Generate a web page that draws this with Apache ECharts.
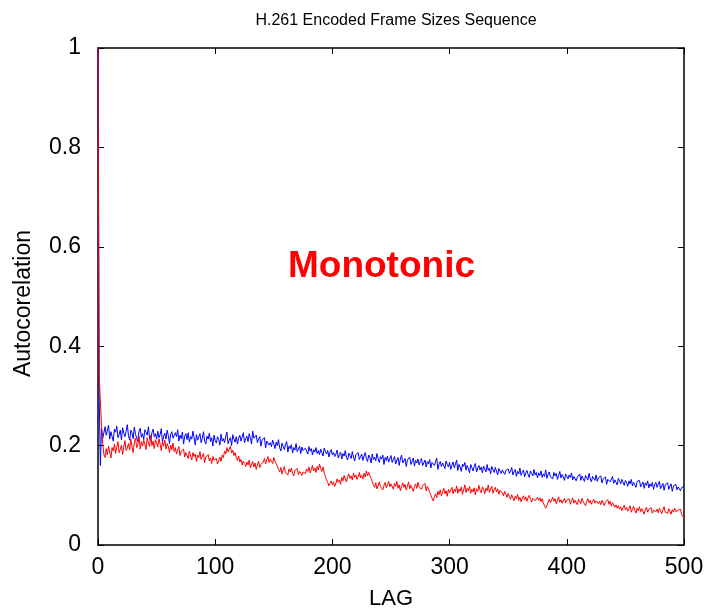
<!DOCTYPE html>
<html>
<head>
<meta charset="utf-8">
<script src="https://cdn.jsdelivr.net/npm/echarts@6/dist/echarts.min.js"></script>
<style>
  html, body { margin: 0; padding: 0; background: #fff; }
  #chart { width: 707px; height: 610px; }
</style>
</head>
<body>
<div id="chart"></div>
<script>
// Autocorrelation of the H.261 encoded frame-size sequence, lags 0..500.
const xTicks = [0, 100, 200, 300, 400, 500];
const yTicks = [0, 0.2, 0.4, 0.6, 0.8, 1];

// Blue trace (index = lag)
const blueAcf = [1.0,
  0.30,0.16,0.235,0.214,0.226,0.238,0.221,0.219,0.241,0.213,0.228,0.224,0.209,0.233,0.227,0.239,0.216,0.222,0.231,0.212,0.236,0.225,0.218,0.229,0.242,
  0.22,0.211,0.231,0.226,0.214,0.237,0.223,0.219,0.208,0.229,0.235,0.217,0.224,0.212,0.232,0.227,0.221,0.238,0.215,0.209,0.226,0.233,0.218,0.224,0.213,
  0.229,0.216,0.222,0.234,0.207,0.219,0.225,0.213,0.231,0.22,0.204,0.223,0.228,0.215,0.211,0.226,0.218,0.232,0.209,0.221,0.214,0.227,0.203,0.219,0.224,
  0.212,0.226,0.207,0.218,0.213,0.229,0.216,0.201,0.222,0.211,0.217,0.224,0.206,0.214,0.228,0.209,0.203,0.219,0.213,0.225,0.208,0.216,0.199,0.221,0.21,
  0.205,0.218,0.212,0.201,0.223,0.209,0.214,0.206,0.219,0.227,0.204,0.211,0.216,0.2,0.222,0.213,0.207,0.218,0.203,0.215,0.221,0.209,0.212,0.226,0.206,
  0.214,0.219,0.208,0.224,0.216,0.203,0.229,0.215,0.211,0.221,0.206,0.213,0.218,0.199,0.211,0.207,0.216,0.195,0.209,0.213,0.201,0.206,0.198,0.211,0.203,
  0.194,0.207,0.2,0.212,0.196,0.189,0.205,0.198,0.192,0.203,0.208,0.187,0.199,0.194,0.202,0.185,0.196,0.191,0.204,0.188,0.193,0.199,0.184,0.197,0.19,
  0.186,0.195,0.191,0.183,0.198,0.189,0.194,0.181,0.192,0.187,0.196,0.184,0.19,0.182,0.193,0.186,0.179,0.195,0.188,0.183,0.19,0.177,0.187,0.192,0.181,
  0.186,0.178,0.183,0.191,0.175,0.182,0.187,0.173,0.184,0.179,0.19,0.176,0.171,0.185,0.18,0.174,0.188,0.177,0.169,0.182,0.179,0.186,0.172,0.178,0.183,
  0.17,0.179,0.186,0.174,0.168,0.181,0.176,0.165,0.183,0.172,0.177,0.169,0.184,0.174,0.166,0.178,0.173,0.181,0.162,0.176,0.17,0.179,0.167,0.174,0.18,
  0.166,0.172,0.178,0.163,0.171,0.176,0.16,0.173,0.181,0.165,0.169,0.174,0.158,0.171,0.167,0.177,0.162,0.168,0.175,0.159,0.17,0.165,0.173,0.161,0.168,
  0.174,0.16,0.165,0.171,0.157,0.168,0.163,0.172,0.155,0.166,0.17,0.16,0.164,0.175,0.152,0.163,0.168,0.158,0.165,0.161,0.154,0.169,0.162,0.157,0.166,
  0.152,0.161,0.167,0.155,0.159,0.171,0.15,0.162,0.157,0.148,0.163,0.158,0.166,0.151,0.16,0.154,0.145,0.162,0.156,0.149,0.158,0.164,0.147,0.155,0.16,
  0.151,0.157,0.145,0.159,0.153,0.147,0.162,0.15,0.155,0.143,0.158,0.152,0.146,0.156,0.149,0.141,0.154,0.158,0.144,0.151,0.155,0.142,0.15,0.146,0.153,
  0.144,0.149,0.156,0.141,0.147,0.152,0.138,0.148,0.143,0.155,0.14,0.146,0.151,0.137,0.145,0.15,0.142,0.136,0.149,0.144,0.139,0.152,0.141,0.146,0.135,
  0.145,0.14,0.149,0.136,0.143,0.138,0.151,0.134,0.142,0.147,0.137,0.141,0.133,0.146,0.139,0.144,0.132,0.14,0.148,0.135,0.142,0.137,0.13,0.143,0.138,
  0.133,0.141,0.136,0.145,0.131,0.138,0.142,0.129,0.137,0.134,0.143,0.13,0.139,0.135,0.128,0.14,0.136,0.131,0.144,0.133,0.127,0.138,0.134,0.13,0.141,
  0.128,0.135,0.131,0.139,0.125,0.133,0.129,0.137,0.122,0.132,0.136,0.127,0.13,0.138,0.124,0.131,0.127,0.121,0.134,0.129,0.123,0.132,0.126,0.12,0.13,
  0.125,0.118,0.129,0.123,0.132,0.119,0.126,0.121,0.116,0.128,0.124,0.13,0.117,0.122,0.127,0.114,0.125,0.12,0.129,0.115,0.123,0.118,0.126,0.112,0.121,
  0.126,0.116,0.12,0.128,0.113,0.119,0.124,0.11,0.121,0.117,0.125,0.112,0.118,0.123,0.108,0.119,0.115,0.122,0.111,0.117,0.12,0.109,0.116,0.113,0.118
];

// Red trace (index = lag)
const redAcf = [1.0,
  0.34,0.29,0.24,0.205,0.182,0.176,0.194,0.181,0.199,0.187,0.175,0.196,0.189,0.203,0.184,0.197,0.208,0.186,0.193,0.201,0.182,0.198,0.21,0.19,0.195,
  0.204,0.191,0.213,0.198,0.186,0.207,0.215,0.196,0.202,0.219,0.193,0.208,0.199,0.211,0.203,0.192,0.216,0.205,0.198,0.221,0.2,0.209,0.194,0.212,0.206,
  0.197,0.214,0.203,0.19,0.208,0.199,0.211,0.193,0.204,0.198,0.186,0.201,0.192,0.205,0.188,0.196,0.183,0.191,0.198,0.18,0.189,0.185,0.193,0.177,0.186,
  0.182,0.174,0.189,0.179,0.171,0.186,0.178,0.183,0.168,0.181,0.176,0.188,0.172,0.179,0.184,0.166,0.177,0.173,0.182,0.169,0.175,0.164,0.178,0.171,0.167,
  0.174,0.163,0.17,0.177,0.168,0.181,0.176,0.189,0.183,0.196,0.187,0.193,0.199,0.185,0.191,0.18,0.186,0.176,0.17,0.179,0.167,0.172,0.161,0.169,0.164,
  0.158,0.167,0.161,0.171,0.155,0.163,0.168,0.157,0.165,0.152,0.161,0.169,0.156,0.162,0.159,0.167,0.174,0.163,0.171,0.178,0.166,0.173,0.169,0.164,0.176,
  0.168,0.172,0.159,0.152,0.147,0.156,0.143,0.151,0.158,0.145,0.149,0.141,0.153,0.147,0.155,0.144,0.139,0.15,0.146,0.154,0.142,0.148,0.152,0.14,0.147,
  0.151,0.144,0.153,0.148,0.157,0.145,0.152,0.16,0.149,0.155,0.146,0.158,0.151,0.163,0.154,0.148,0.157,0.145,0.138,0.131,0.126,0.119,0.124,0.129,0.121,
  0.127,0.118,0.124,0.133,0.126,0.131,0.122,0.136,0.129,0.14,0.133,0.127,0.138,0.143,0.134,0.139,0.131,0.145,0.136,0.141,0.132,0.138,0.146,0.135,0.14,
  0.133,0.144,0.137,0.149,0.139,0.146,0.142,0.134,0.128,0.121,0.116,0.125,0.113,0.119,0.127,0.118,0.122,0.111,0.12,0.126,0.115,0.121,0.128,0.117,0.123,
  0.119,0.112,0.124,0.118,0.128,0.114,0.121,0.109,0.117,0.125,0.116,0.122,0.111,0.119,0.127,0.113,0.12,0.124,0.108,0.118,0.123,0.114,0.126,0.117,0.121,
  0.112,0.12,0.116,0.124,0.109,0.118,0.113,0.106,0.1,0.094,0.089,0.097,0.103,0.095,0.108,0.101,0.111,0.099,0.106,0.114,0.103,0.109,0.098,0.112,0.105,
  0.109,0.116,0.103,0.112,0.107,0.119,0.104,0.113,0.108,0.117,0.102,0.111,0.121,0.106,0.114,0.109,0.118,0.104,0.112,0.107,0.115,0.101,0.113,0.108,0.12,
  0.11,0.105,0.117,0.112,0.103,0.114,0.109,0.121,0.106,0.113,0.118,0.104,0.111,0.116,0.107,0.113,0.102,0.11,0.114,0.105,0.099,0.108,0.102,0.096,0.104,
  0.097,0.092,0.101,0.095,0.089,0.098,0.093,0.102,0.09,0.096,0.087,0.094,0.099,0.091,0.097,0.088,0.095,0.1,0.092,0.086,0.094,0.098,0.089,0.093,0.096,
  0.09,0.095,0.087,0.093,0.084,0.08,0.074,0.079,0.086,0.092,0.085,0.089,0.096,0.088,0.093,0.083,0.09,0.097,0.086,0.091,0.084,0.088,0.094,0.085,0.09,
  0.087,0.093,0.082,0.089,0.095,0.084,0.09,0.086,0.081,0.092,0.088,0.083,0.094,0.087,0.091,0.079,0.088,0.093,0.085,0.09,0.082,0.087,0.092,0.084,0.089,
  0.093,0.083,0.088,0.081,0.09,0.086,0.079,0.087,0.084,0.091,0.082,0.088,0.078,0.085,0.083,0.076,0.081,0.074,0.079,0.072,0.077,0.069,0.075,0.08,0.071,
  0.076,0.068,0.073,0.079,0.066,0.072,0.078,0.07,0.064,0.074,0.069,0.077,0.067,0.073,0.07,0.062,0.071,0.076,0.066,0.072,0.068,0.075,0.064,0.07,0.073,
  0.067,0.072,0.065,0.074,0.069,0.063,0.071,0.077,0.066,0.07,0.064,0.073,0.068,0.062,0.071,0.066,0.074,0.067,0.063,0.07,0.066,0.072,0.061,0.057,0.054
];

const toPairs = arr => arr.map((v, lag) => [lag, v]);

const chart = echarts.init(document.getElementById('chart'), null, { renderer: 'canvas' });
const font = '"Liberation Sans", Arial, Helvetica, sans-serif';

const baseAxis = {
  axisLine: { show: true, onZero: false, lineStyle: { color: '#000', width: 1.5 } },
  axisTick: { show: true, inside: true, length: 6, lineStyle: { color: '#000', width: 1 } },
  splitLine: { show: false }
};

chart.setOption({
  animation: false,
  backgroundColor: '#fff',
  title: {
    text: 'H.261 Encoded Frame Sizes Sequence',
    left: 391, top: 8, textAlign: 'center',
    textStyle: { fontFamily: font, fontSize: 16, fontWeight: 'normal', color: '#000' }
  },
  grid: {
    left: 98, right: 23, top: 48, bottom: 65,
    containLabel: false, outerBoundsMode: 'none'
  },
  xAxis: [
    Object.assign({}, baseAxis, {
      type: 'value', min: xTicks[0], max: xTicks[xTicks.length - 1], interval: 100,
      position: 'bottom',
      name: 'LAG', nameLocation: 'middle', nameGap: 43,
      nameTextStyle: { fontFamily: font, fontSize: 22, color: '#000' },
      axisLabel: { fontFamily: font, fontSize: 23, color: '#000', margin: 11 }
    }),
    Object.assign({}, baseAxis, {
      type: 'value', min: xTicks[0], max: xTicks[xTicks.length - 1], interval: 100,
      position: 'top', axisLabel: { show: false }
    })
  ],
  yAxis: [
    Object.assign({}, baseAxis, {
      type: 'value', min: yTicks[0], max: yTicks[yTicks.length - 1], interval: 0.2,
      position: 'left',
      name: 'Autocorelation', nameLocation: 'middle', nameGap: 63, nameRotate: 90,
      nameTextStyle: { fontFamily: font, fontSize: 23, color: '#000', padding: [0, 14, 0, 0] },
      axisLabel: { fontFamily: font, fontSize: 23, color: '#000', margin: 17 }
    }),
    Object.assign({}, baseAxis, {
      type: 'value', min: yTicks[0], max: yTicks[yTicks.length - 1], interval: 0.2,
      position: 'right', axisLabel: { show: false }
    })
  ],
  series: [
    {
      name: 'blue', type: 'line', data: toPairs(blueAcf),
      xAxisIndex: 0, yAxisIndex: 0,
      showSymbol: false, symbol: 'none',
      lineStyle: { color: '#0000ff', width: 1 }
    },
    {
      name: 'red', type: 'line', data: toPairs(redAcf),
      xAxisIndex: 0, yAxisIndex: 0,
      showSymbol: false, symbol: 'none',
      lineStyle: { color: '#ff0000', width: 1 }
    }
  ],
  graphic: [
    {
      type: 'text', left: 288, top: 248,
      style: {
        text: 'Monotonic', fill: '#ff0000',
        font: 'bold 37px ' + font
      }
    }
  ]
});
</script>
</body>
</html>
